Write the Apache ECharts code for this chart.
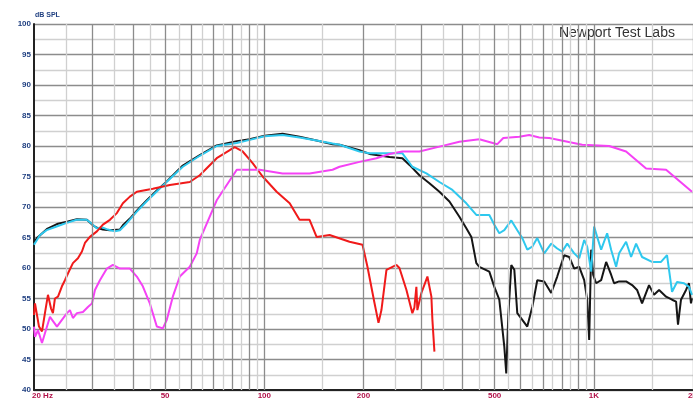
<!DOCTYPE html>
<html>
<head>
<meta charset="utf-8">
<script src="https://cdn.jsdelivr.net/npm/echarts@6/dist/echarts.min.js"></script>
<style>
  html, body { margin: 0; padding: 0; background: #fff; }
  #chart { width: 693px; height: 399px; }
</style>
</head>
<body>
<div id="chart"></div>
<script>
// Frequency axis labels (Hz)
const xTickValues = [20, 50, 100, 200, 500, 1000, 2000];
const xTickLabels = ['20 Hz', '50', '100', '200', '500', '1K', '2K'];

// Log-paper grid: heavy lines on 1-2-3..., light lines half way between
const majorGridFreqs = [30, 40, 50, 60, 70, 80, 90, 100, 200, 300, 400, 500, 600, 700, 800, 900, 1000, 2000];
const minorGridFreqs = [25, 35, 45, 55, 65, 75, 85, 95, 150, 250, 350, 450, 550, 650, 750, 850, 950, 1500];

// SPL range (dB)
const splMin = 40;
const splMax = 100;
const splStep = 5;

// Measured responses: [frequency Hz, level dB SPL]
const blackCurve = [
  [20, 64.2], [20.42, 64.9], [21.9, 66.4], [23.48, 67.2], [25.18, 67.6], [27.0, 68.0], [28.95, 67.9],
  [30.19, 67.0], [31.04, 66.6], [32.37, 66.3], [34.0, 66.2], [36.45, 66.3], [37.22, 67.0], [39.09, 68.1],
  [41.03, 69.4], [44.0, 71.1], [47.18, 72.7], [50.59, 74.2], [56.57, 76.8], [63.7, 78.5], [71.7, 80.1],
  [82.5, 80.8], [90.3, 81.1], [100.2, 81.7], [113.6, 82.0], [127.9, 81.5], [144.1, 80.9], [161.1, 80.3],
  [169.2, 80.2], [194.5, 79.3], [208.6, 78.7], [239.8, 78.2], [262.5, 78.0], [275.8, 76.9], [295.6, 75.2],
  [317, 73.9], [340, 72.5], [364.6, 70.9], [390.9, 68.4], [410.3, 66.5], [425, 65.1], [440, 60.8],
  [449.3, 60.2], [481.8, 59.4], [499, 56.9], [516.6, 54.8], [535, 47.1], [542.4, 42.7], [550, 52.0],
  [561.8, 60.5], [573.8, 59.7], [585.8, 52.6], [606.7, 51.5], [628.2, 50.4], [650.5, 53.6], [673.6, 58.0],
  [707.2, 57.8], [742.6, 55.9], [774.4, 58.6], [813, 62.1], [842, 61.8], [872, 59.9], [903, 60.2],
  [935, 58.0], [954.8, 54.8], [968.2, 48.2], [981.8, 63.0], [995.4, 58.9], [1016.4, 57.5], [1052.6, 58.0],
  [1090, 61.0], [1128.6, 58.9], [1152, 57.5], [1193.6, 57.8], [1253, 57.8], [1306.8, 57.2], [1353, 56.4],
  [1401, 54.2], [1471, 57.2], [1523, 55.6], [1578, 56.4], [1657, 55.3], [1727.8, 54.8], [1777, 54.5],
  [1801, 50.7], [1839, 54.8], [1905, 56.4], [1945, 57.5], [1972, 54.2], [1986, 55.0]
];

const cyanCurve = [
  [20, 63.8], [20.86, 65.4], [21.85, 66.2], [23.43, 66.8], [25.13, 67.4], [26.94, 67.9], [28.89, 67.9],
  [29.92, 67.3], [30.98, 66.5], [32.08, 66.7], [33.51, 66.3], [35.2, 66.0], [36.45, 66.2], [38.2, 67.3],
  [40.96, 69.2], [43.9, 70.9], [47.08, 72.5], [50.5, 74.1], [56.57, 76.6], [63.7, 78.4], [71.7, 80.0],
  [82.5, 80.5], [90.3, 81.0], [100.2, 81.6], [113.6, 81.8], [127.9, 81.4], [144.1, 80.9], [161.1, 80.4],
  [169.2, 80.2], [194.5, 79.1], [208.6, 78.8], [262.5, 78.8], [281.4, 76.6], [310.4, 75.5], [340, 74.1],
  [372.2, 72.8], [410.3, 70.6], [440, 68.7], [481.8, 68.7], [499, 67.1], [516.6, 65.7], [535, 66.2],
  [561.8, 67.8], [585.8, 66.2], [606.7, 64.9], [628.2, 63.0], [650.5, 63.5], [673.6, 64.9], [707.2, 62.4],
  [742.6, 64.0], [774.4, 63.2], [801.9, 62.7], [830.4, 64.0], [872, 62.4], [903, 61.6], [935, 64.6],
  [954.8, 63.5], [981.8, 59.4], [1002, 66.8], [1023.6, 65.1], [1052.6, 63.0], [1097.7, 65.7], [1128.6, 63.0],
  [1168.8, 60.2], [1193.6, 62.4], [1253, 64.3], [1297.6, 61.8], [1343.8, 64.0], [1401, 61.8], [1502, 61.0],
  [1599.6, 61.0], [1668, 62.1], [1727.8, 56.1], [1789, 57.7], [1878, 57.5], [1945, 56.9], [1986, 55.6]
];

const redCurve = [
  [20, 52.3], [20.14, 54.2], [20.42, 54.0], [20.71, 50.4], [21.15, 49.6], [21.59, 52.6], [22.05, 55.6],
  [22.52, 53.4], [22.83, 52.6], [23.15, 55.0], [23.65, 55.3], [24.31, 57.0], [24.83, 58.0], [25.35, 59.1],
  [26.25, 60.8], [27.19, 61.6], [27.96, 62.7], [28.55, 64.1], [29.56, 65.1], [31.04, 66.0], [32.37, 67.1],
  [34.0, 67.9], [35.69, 69.0], [37.22, 70.6], [39.09, 71.7], [41.03, 72.5], [45.89, 73.0], [51.67, 73.6],
  [59.4, 74.1], [63.7, 75.2], [71.7, 78.0], [81.3, 79.8], [85.97, 79.1], [92.16, 77.2], [98.85, 75.0],
  [109, 72.5], [119.4, 70.6], [127.9, 67.9], [137.2, 67.9], [144.1, 65.1], [157.8, 65.4], [181.4, 64.3],
  [198.6, 63.8], [205.6, 60.2], [215.9, 54.3], [222.1, 51.0], [226.7, 53.1], [234.8, 59.7], [251.8, 60.5],
  [257.1, 60.0], [270, 56.4], [281.4, 52.6], [285.4, 53.5], [289.4, 56.9], [291.4, 53.1], [299.7, 55.9],
  [312.6, 58.6], [321.4, 55.3], [323.7, 51.5], [328.3, 46.3]
];

const magentaCurve = [
  [20, 50.4], [20.14, 48.7], [20.57, 49.8], [21.15, 47.7], [21.59, 49.3], [22.36, 52.0], [23.48, 50.4],
  [24.31, 51.5], [25.18, 52.6], [25.71, 53.1], [26.25, 51.8], [27.0, 52.6], [28.16, 52.8], [29.15, 53.6],
  [29.99, 54.2], [30.62, 56.4], [31.7, 58.0], [33.28, 59.9], [34.71, 60.5], [36.45, 59.9], [39.09, 59.9],
  [41.03, 58.6], [42.79, 57.0], [44.93, 54.2], [47.18, 50.4], [49.2, 50.1], [50.59, 51.5], [52.76, 55.3],
  [55.4, 58.6], [59.4, 60.2], [62.36, 62.4], [63.7, 64.6], [71.7, 71.1], [82.5, 76.1], [96.8, 76.1],
  [113.6, 75.5], [137.2, 75.5], [161.1, 76.1], [169.2, 76.6], [194.5, 77.4], [219, 78.0], [239.8, 78.7],
  [262.5, 79.1], [295.6, 79.1], [340, 79.9], [390.9, 80.7], [449.3, 81.1], [509.5, 80.3], [531.2, 81.3],
  [594, 81.5], [636.8, 81.8], [683, 81.4], [732.2, 81.3], [922, 80.2], [1113, 80.0], [1253, 79.1],
  [1441, 76.3], [1657, 76.1], [1852, 73.9], [1986, 72.5]
];

const chart = echarts.init(document.getElementById('chart'), null, { renderer: 'canvas' });

function gridLineSeries(freqs, color) {
  return {
    type: 'line',
    data: [],
    silent: true,
    z: 1,
    markLine: {
      silent: true,
      symbol: ['none', 'none'],
      animation: false,
      label: { show: false },
      emphasis: { disabled: true },
      lineStyle: { color: color, width: 1.3, type: 'solid' },
      data: freqs.map(f => ({ xAxis: f }))
    }
  };
}

function curveSeries(name, data, color) {
  return {
    name: name,
    type: 'line',
    data: data,
    z: 3,
    showSymbol: false,
    symbol: 'none',
    smooth: false,
    silent: true,
    lineStyle: { color: color, width: 2 },
    emphasis: { disabled: true }
  };
}

chart.setOption({
  animation: false,
  backgroundColor: '#ffffff',
  grid: { left: 34, top: 24, right: -1, bottom: 9, containLabel: false },
  xAxis: {
    type: 'log',
    logBase: 10,
    min: 20,
    max: 2000,
    axisLine: { show: true, onZero: false, lineStyle: { color: '#222', width: 2 } },
    axisTick: { show: false },
    axisLabel: { show: false },
    splitLine: { show: false },
    minorSplitLine: { show: false }
  },
  yAxis: {
    type: 'value',
    min: splMin,
    max: splMax,
    interval: splStep,
    axisLine: { show: true, lineStyle: { color: '#222', width: 2 } },
    axisTick: { show: false },
    minorTick: { show: false, splitNumber: 2 },
    axisLabel: {
      color: '#1f3f80',
      fontFamily: 'Liberation Sans',
      fontWeight: 'bold',
      fontSize: 8,
      margin: 3
    },
    splitLine: { show: true, lineStyle: { color: '#8c8c8c', width: 1.3 } },
    minorSplitLine: { show: true, lineStyle: { color: '#d0d0d0', width: 1.3 } }
  },
  series: [
    gridLineSeries(minorGridFreqs, '#d0d0d0'),
    gridLineSeries(majorGridFreqs, '#8c8c8c'),
    curveSeries('black', blackCurve, '#151515'),
    curveSeries('cyan', cyanCurve, '#2ec8ee'),
    curveSeries('red', redCurve, '#f01a1a'),
    curveSeries('magenta', magentaCurve, '#f542f5')
  ]
});

// Frequency tick labels placed through the log axis scale
const bottomY = chart.convertToPixel({ yAxisIndex: 0 }, splMin);
const labelGraphics = xTickValues.map((f, i) => {
  const px = chart.convertToPixel({ xAxisIndex: 0 }, f);
  const first = i === 0;
  return {
    type: 'text',
    x: first ? px - 2 : px,
    y: bottomY + 2,
    silent: true,
    style: {
      text: xTickLabels[i],
      fill: '#b2124a',
      font: 'bold 8px "Liberation Sans"',
      textAlign: first ? 'left' : 'center',
      textVerticalAlign: 'top'
    }
  };
});

chart.setOption({
  graphic: labelGraphics.concat([
    {
      type: 'text',
      x: 35,
      y: 12,
      silent: true,
      style: { text: 'dB SPL', fill: '#1f3f80', font: 'bold 7px "Liberation Sans"', textAlign: 'left', textVerticalAlign: 'top' }
    },
    {
      type: 'text',
      x: 559,
      y: 33,
      silent: true,
      style: { text: 'Newport Test Labs', fill: '#333333', font: '14px "Liberation Sans"', textAlign: 'left', textVerticalAlign: 'middle' }
    }
  ])
});
</script>
</body>
</html>
